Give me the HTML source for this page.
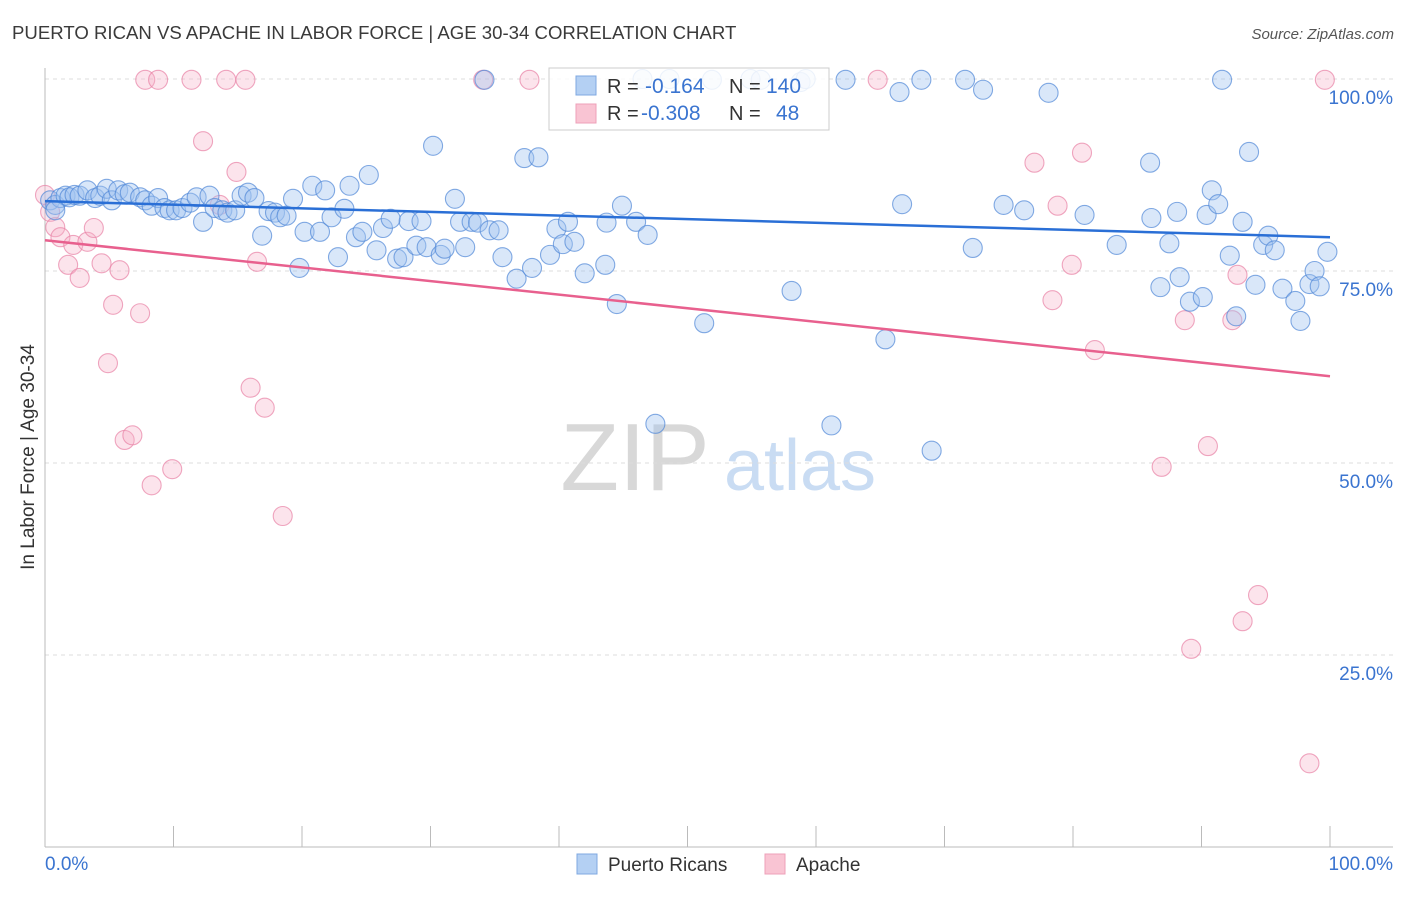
<!DOCTYPE html>
<html><head><meta charset="utf-8"><style>
body{margin:0;background:#fff;font-family:"Liberation Sans",sans-serif;}
svg text{font-family:"Liberation Sans",sans-serif;}
</style></head><body>
<svg id="chart" width="1406" height="892" xmlns="http://www.w3.org/2000/svg">
<text x="12" y="39" font-size="18.6" fill="#3a3a3a">PUERTO RICAN VS APACHE IN LABOR FORCE | AGE 30-34 CORRELATION CHART</text>
<text x="1394" y="39" font-size="15" fill="#555" font-style="italic" text-anchor="end">Source: ZipAtlas.com</text>
<g>
<text x="635" y="490" font-size="96" fill="#d8d8d8" font-family="Liberation Serif" text-anchor="middle">ZIP</text>
<text x="800" y="490" font-size="72" fill="#c9dcf3" text-anchor="middle">atlas</text>
</g>
<g id="grid"></g>
<g id="axes"></g>
<g id="marks"></g>
<g>
<rect x="549" y="68" width="280" height="62" fill="rgba(255,255,255,0.85)" stroke="#ccc"/>
<rect x="576" y="76" width="20" height="19" fill="#b4d0f3" stroke="#7fa8e0"/>
<rect x="576" y="104" width="20" height="19" fill="#f9c4d3" stroke="#eea0b8"/>
<text x="607" y="93" font-size="20" fill="#333">R = </text><text x="645" y="93" font-size="21" fill="#3a74d0">-0.164</text>
<text x="729" y="93" font-size="20" fill="#333">N = </text><text x="766" y="93" font-size="21" fill="#3a74d0">140</text>
<text x="607" y="120" font-size="20" fill="#333">R = </text><text x="641" y="120" font-size="21" fill="#3a74d0">-0.308</text>
<text x="729" y="120" font-size="20" fill="#333">N = </text><text x="776" y="120" font-size="21" fill="#3a74d0">48</text>
</g>
<g>
<rect x="577" y="854" width="20" height="20" fill="#b4d0f3" stroke="#7fa8e0"/>
<text x="608" y="871" font-size="19" fill="#333">Puerto Ricans</text>
<rect x="765" y="854" width="20" height="20" fill="#f9c4d3" stroke="#eea0b8"/>
<text x="796" y="871" font-size="19" fill="#333">Apache</text>
</g>
<text transform="translate(34,457) rotate(-90)" font-size="19" fill="#333" text-anchor="middle">In Labor Force | Age 30-34</text>
</svg>
<script>
const blueX=[0.4,0.8,1.2,1.6,1.9,2.3,2.7,3.3,3.9,4.3,4.8,5.2,5.7,6.2,6.6,7.4,7.8,8.3,8.8,9.3,9.7,10.2,10.7,11.3,11.8,12.3,12.8,13.2,13.8,14.2,14.8,15.3,15.8,16.3,16.9,17.4,17.9,18.3,18.8,19.3,19.8,20.2,20.8,21.4,21.8,22.3,22.8,23.3,23.7,24.2,24.7,25.2,25.8,26.3,26.9,27.4,27.9,28.3,28.9,29.3,29.7,30.2,30.8,31.1,31.9,32.3,32.7,33.2,33.7,34.2,34.6,35.3,35.6,36.7,37.3,37.9,38.4,39.3,39.8,40.3,40.7,41.2,42.0,43.6,43.7,44.5,44.9,46.0,46.9,47.5,46.5,48.6,51.3,51.9,54.9,55.7,58.1,58.8,59.2,61.2,62.3,65.4,66.5,66.7,68.2,69.0,71.6,72.2,73.0,74.6,76.2,78.1,80.9,83.4,86.0,86.1,86.8,87.5,88.1,88.3,89.1,90.1,90.4,90.8,91.3,91.6,92.2,92.7,93.2,93.7,94.2,94.8,95.2,95.7,96.3,97.3,97.7,98.4,98.8,99.2,99.8,0.8];
const blueY=[84.2,83.6,84.5,84.8,84.6,84.9,84.8,85.5,84.5,84.8,85.7,84.2,85.5,85.0,85.2,84.6,84.2,83.5,84.5,83.2,82.9,82.9,83.2,83.9,84.6,81.4,84.8,83.2,82.9,82.6,82.9,84.8,85.2,84.5,79.6,82.8,82.6,82.0,82.2,84.4,75.4,80.1,86.1,80.1,85.5,82.0,76.8,83.1,86.1,79.4,80.1,87.5,77.7,80.6,81.8,76.6,76.8,81.5,78.3,81.5,78.1,91.3,77.1,77.9,84.4,81.4,78.1,81.4,81.3,99.9,80.3,80.3,76.8,74.0,89.7,75.4,89.8,77.1,80.5,78.5,81.4,78.8,74.7,75.8,81.3,70.7,83.5,81.4,79.7,55.1,100,100,68.2,99.9,100,99.9,72.4,99.6,100,54.9,99.9,66.1,98.3,83.7,99.9,51.6,99.9,78.0,98.6,83.6,82.9,98.2,82.3,78.4,89.1,81.9,72.9,78.6,82.7,74.2,71.0,71.6,82.3,85.5,83.7,99.9,77.0,69.1,81.4,90.5,73.2,78.4,79.6,77.7,72.7,71.1,68.5,73.3,75.0,73.0,77.5,82.9];
const pinkX=[0,0.4,0.8,1.2,1.8,2.2,2.7,3.3,3.8,4.4,5.3,5.8,4.9,6.2,6.8,7.4,7.8,8.3,8.8,9.9,11.4,12.3,14.1,14.9,15.6,16.0,16.5,17.1,18.5,13.6,34.1,37.7,64.8,77.0,78.4,79.9,80.7,81.7,78.8,86.9,88.7,89.2,90.5,92.4,92.8,93.2,94.4,98.4,99.6];
const pinkY=[84.9,82.7,80.7,79.4,75.8,78.4,74.1,78.8,80.6,76.0,70.6,75.1,63.0,53.0,53.6,69.5,99.9,47.1,99.9,49.2,99.9,91.9,99.9,87.9,99.9,59.8,76.2,57.2,43.1,83.6,99.9,99.9,99.9,89.1,71.2,75.8,90.4,64.7,83.5,49.5,68.6,25.8,52.2,68.6,74.5,29.4,32.8,10.9,99.9];
const blueTrend=[84.1,79.4];
const pinkTrend=[79.0,61.3];
const yTicks=[100,75,50,25];
const yTickLabels=["100.0%","75.0%","50.0%","25.0%"];
const xTicks=[10,20,30,40,50,60,70,80,90,100];

const NS="http://www.w3.org/2000/svg";
const X0=45,X1=1330,Y0=847,YT=79;
const sx=v=>X0+(X1-X0)*v/100;
const sy=v=>Y0-(Y0-YT)*v/100;
function mk(tag,attrs,parent){const e=document.createElementNS(NS,tag);for(const k in attrs)e.setAttribute(k,attrs[k]);parent.appendChild(e);return e;}
const grid=document.getElementById('grid'),axes=document.getElementById('axes'),marks=document.getElementById('marks');
yTicks.forEach((t,i)=>{
  const l=mk('line',{x1:X0,x2:1393,y1:sy(t),y2:sy(t),stroke:'#ddd','stroke-dasharray':'4,4'},grid);
  
  
  const tx=mk('text',{x:1393,y:sy(t)+25,'font-size':19,fill:'#3a74d0','text-anchor':'end'},grid);
  tx.textContent=yTickLabels[i];
  
  
});
const la=mk('line',{x1:X0,x2:X0,y1:68,y2:Y0,stroke:'#bbb'},axes);


const ba=mk('line',{x1:X0,x2:1393,y1:Y0,y2:Y0,stroke:'#bbb'},axes);


xTicks.forEach(t=>{
  const l=mk('line',{x1:sx(t),x2:sx(t),y1:826,y2:Y0,stroke:'#bbb'},axes);
  
  
});
const xl0=mk('text',{x:45,y:870,'font-size':19,fill:'#3a74d0'},axes);xl0.textContent='0.0%';


const xl1=mk('text',{x:1393,y:870,'font-size':19,fill:'#3a74d0','text-anchor':'end'},axes);xl1.textContent='100.0%';


function pts(xs,ys,fill,stroke,name){
  xs.forEach((v,i)=>{
    const c=mk('circle',{cx:sx(v),cy:sy(ys[i]),r:9.5,fill:fill,stroke:stroke,'stroke-width':1.1},marks);
    
    
  });
}
pts(pinkX,pinkY,'rgba(247,178,200,0.35)','rgba(232,130,165,0.7)','apache-point');
pts(blueX,blueY,'rgba(160,196,240,0.4)','rgba(80,135,215,0.7)','puerto-rican-point');
const bt=mk('line',{x1:sx(0),x2:sx(100),y1:sy(blueTrend[0]),y2:sy(blueTrend[1]),stroke:'#2a6fd6','stroke-width':2.5},marks);


const pt=mk('line',{x1:sx(0),x2:sx(100),y1:sy(pinkTrend[0]),y2:sy(pinkTrend[1]),stroke:'#e8608e','stroke-width':2.5},marks);


</script>
</body></html>
